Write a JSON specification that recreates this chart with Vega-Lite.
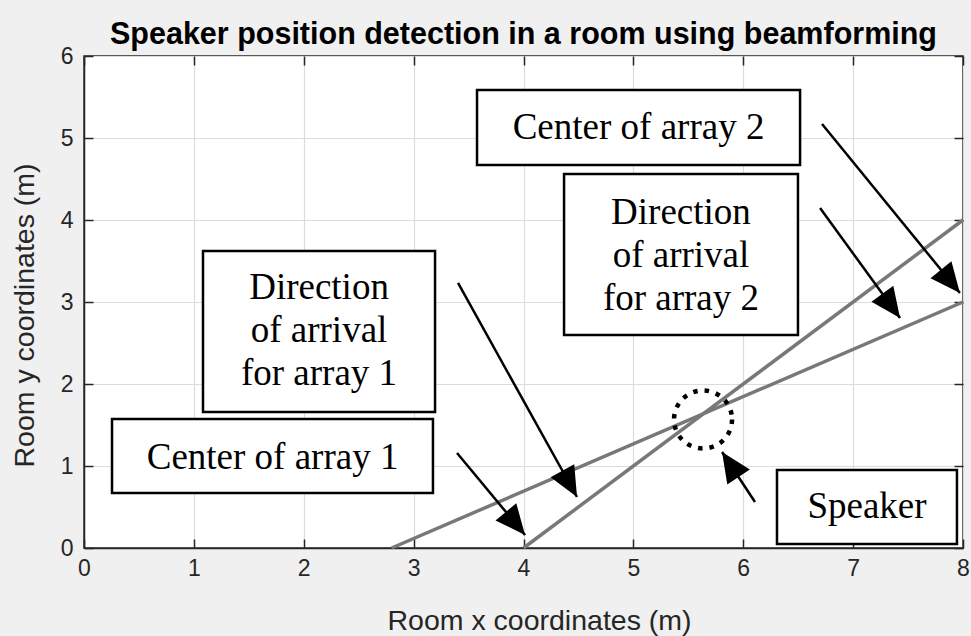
{
  "$schema": "https://vega.github.io/schema/vega-lite/v6.json",
  "width": 879,
  "height": 492,
  "autosize": {"type": "none"},
  "padding": {"left": 84, "top": 56, "right": 8, "bottom": 88},
  "background": "#f0f0f0",
  "title": {"text": "Speaker position detection in a room using beamforming", "font": "Liberation Sans", "fontSize": 30.5, "fontWeight": "bold", "color": "#000000", "offset": -5, "anchor": "middle"},
  "datasets": {
    "lines": [
      {"s": "array1", "x": 4, "y": 0},
      {"s": "array1", "x": 8, "y": 4},
      {"s": "array2", "x": 2.8, "y": 0},
      {"s": "array2", "x": 8, "y": 3}
    ],
    "boxes": [
      {"x1": 3.577, "x2": 6.517, "y1": 5.585, "y2": 4.671, "tx": 5.047, "ty": 5.122, "label": "Center of array 2"},
      {"x1": 4.369, "x2": 6.498, "y1": 4.561, "y2": 2.598, "tx": 5.433, "ty": 4.085, "label": "Direction\nof arrival\nfor array 2"},
      {"x1": 1.083, "x2": 3.195, "y1": 3.622, "y2": 1.659, "tx": 2.139, "ty": 3.171, "label": "Direction\nof arrival\nfor array 1"},
      {"x1": 0.255, "x2": 3.176, "y1": 1.573, "y2": 0.671, "tx": 1.716, "ty": 1.1, "label": "Center of array 1"},
      {"x1": 6.307, "x2": 7.945, "y1": 0.951, "y2": 0.049, "tx": 7.126, "ty": 0.5, "label": "Speaker"}
    ],
    "arrows": [
      {"x": 6.717, "y": 5.171, "x2": 7.972, "y2": 3.11},
      {"x": 6.699, "y": 4.146, "x2": 7.427, "y2": 2.805},
      {"x": 3.404, "y": 3.232, "x2": 4.487, "y2": 0.622},
      {"x": 3.395, "y": 1.159, "x2": 4.014, "y2": 0.159},
      {"x": 6.107, "y": 0.561, "x2": 5.807, "y2": 1.171}
    ],
    "speaker": [
      {"x": 5.634, "y": 1.567}
    ]
  },
  "layer": [
    {
      "data": {"name": "lines"},
      "mark": {"type": "line", "color": "#787878", "strokeWidth": 3.5},
      "encoding": {
        "x": {"field": "x", "type": "quantitative", "scale": {"domain": [0, 8], "nice": false},
              "axis": {"orient": "bottom", "title": "Room x coordinates (m)", "values": [0, 1, 2, 3, 4, 5, 6, 7, 8], "labelPadding": 18, "titlePadding": 26, "titleX": 455, "grid": true}},
        "y": {"field": "y", "type": "quantitative", "scale": {"domain": [0, 6], "nice": false},
              "axis": {"orient": "left", "title": "Room y coordinates (m)", "values": [0, 1, 2, 3, 4, 5, 6], "labelPadding": 20, "titlePadding": 21, "titleY": 259, "grid": true}},
        "detail": {"field": "s", "type": "nominal"}
      }
    },
    {
      "data": {"name": "boxes"},
      "mark": {"type": "rect", "fill": "white", "stroke": "black", "strokeWidth": 2.5},
      "encoding": {
        "x": {"field": "x1", "type": "quantitative", "scale": {"domain": [0, 8], "nice": false}, "axis": null},
        "x2": {"field": "x2"},
        "y": {"field": "y1", "type": "quantitative", "scale": {"domain": [0, 6], "nice": false}, "axis": null},
        "y2": {"field": "y2"}
      }
    },
    {
      "data": {"name": "boxes"},
      "mark": {"type": "text", "font": "Liberation Serif", "fontSize": 37, "color": "black", "align": "center", "baseline": "middle", "lineHeight": 43, "lineBreak": "\n"},
      "encoding": {
        "x": {"field": "tx", "type": "quantitative", "scale": {"domain": [0, 8], "nice": false}, "axis": null},
        "y": {"field": "ty", "type": "quantitative", "scale": {"domain": [0, 6], "nice": false}, "axis": null},
        "text": {"field": "label", "type": "nominal"}
      }
    },
    {
      "data": {"name": "arrows"},
      "mark": {"type": "rule", "color": "black", "strokeWidth": 2.5},
      "encoding": {
        "x": {"field": "x", "type": "quantitative", "scale": {"domain": [0, 8], "nice": false}, "axis": null},
        "y": {"field": "y", "type": "quantitative", "scale": {"domain": [0, 6], "nice": false}, "axis": null},
        "x2": {"field": "x2"},
        "y2": {"field": "y2"}
      }
    },
    {
      "data": {"name": "arrows"},
      "transform": [
        {"calculate": "atan2((datum.x2 - datum.x) * 109.875, (datum.y2 - datum.y) * 82) * 180 / PI", "as": "ang"}
      ],
      "mark": {"type": "point", "shape": "M0,0L0.45,1L-0.45,1Z", "size": 3600, "filled": true, "color": "black", "opacity": 1, "strokeWidth": 0},
      "encoding": {
        "x": {"field": "x2", "type": "quantitative", "scale": {"domain": [0, 8], "nice": false}, "axis": null},
        "y": {"field": "y2", "type": "quantitative", "scale": {"domain": [0, 6], "nice": false}, "axis": null},
        "angle": {"field": "ang", "type": "quantitative", "scale": null}
      }
    },
    {
      "data": {"name": "speaker"},
      "mark": {"type": "point", "shape": "circle", "size": 3364, "filled": false, "stroke": "black", "strokeWidth": 4.5, "strokeDash": [4.5, 7], "opacity": 1},
      "encoding": {
        "x": {"field": "x", "type": "quantitative", "scale": {"domain": [0, 8], "nice": false},
              "axis": {"orient": "top", "title": null, "labels": false, "grid": false, "domain": false, "values": [0, 1, 2, 3, 4, 5, 6, 7, 8]}},
        "y": {"field": "y", "type": "quantitative", "scale": {"domain": [0, 6], "nice": false},
              "axis": {"orient": "right", "title": null, "labels": false, "grid": false, "domain": false, "values": [0, 1, 2, 3, 4, 5, 6]}}
      }
    }
  ],
  "resolve": {"axis": {"x": "independent", "y": "independent"}},
  "config": {
    "view": {"fill": "white", "stroke": "#262626", "strokeWidth": 1.5},
    "axis": {
      "labelFont": "Liberation Sans", "labelFontSize": 23, "labelColor": "#262626",
      "labelFlush": false, "labelOverlap": false,
      "titleFont": "Liberation Sans", "titleFontSize": 28.5, "titleFontWeight": "normal", "titleColor": "#262626",
      "gridColor": "#dcdcdc", "gridWidth": 1.2,
      "tickColor": "#262626", "tickSize": -9, "tickWidth": 1.5,
      "domainColor": "#262626", "domainWidth": 1.5
    }
  }
}
